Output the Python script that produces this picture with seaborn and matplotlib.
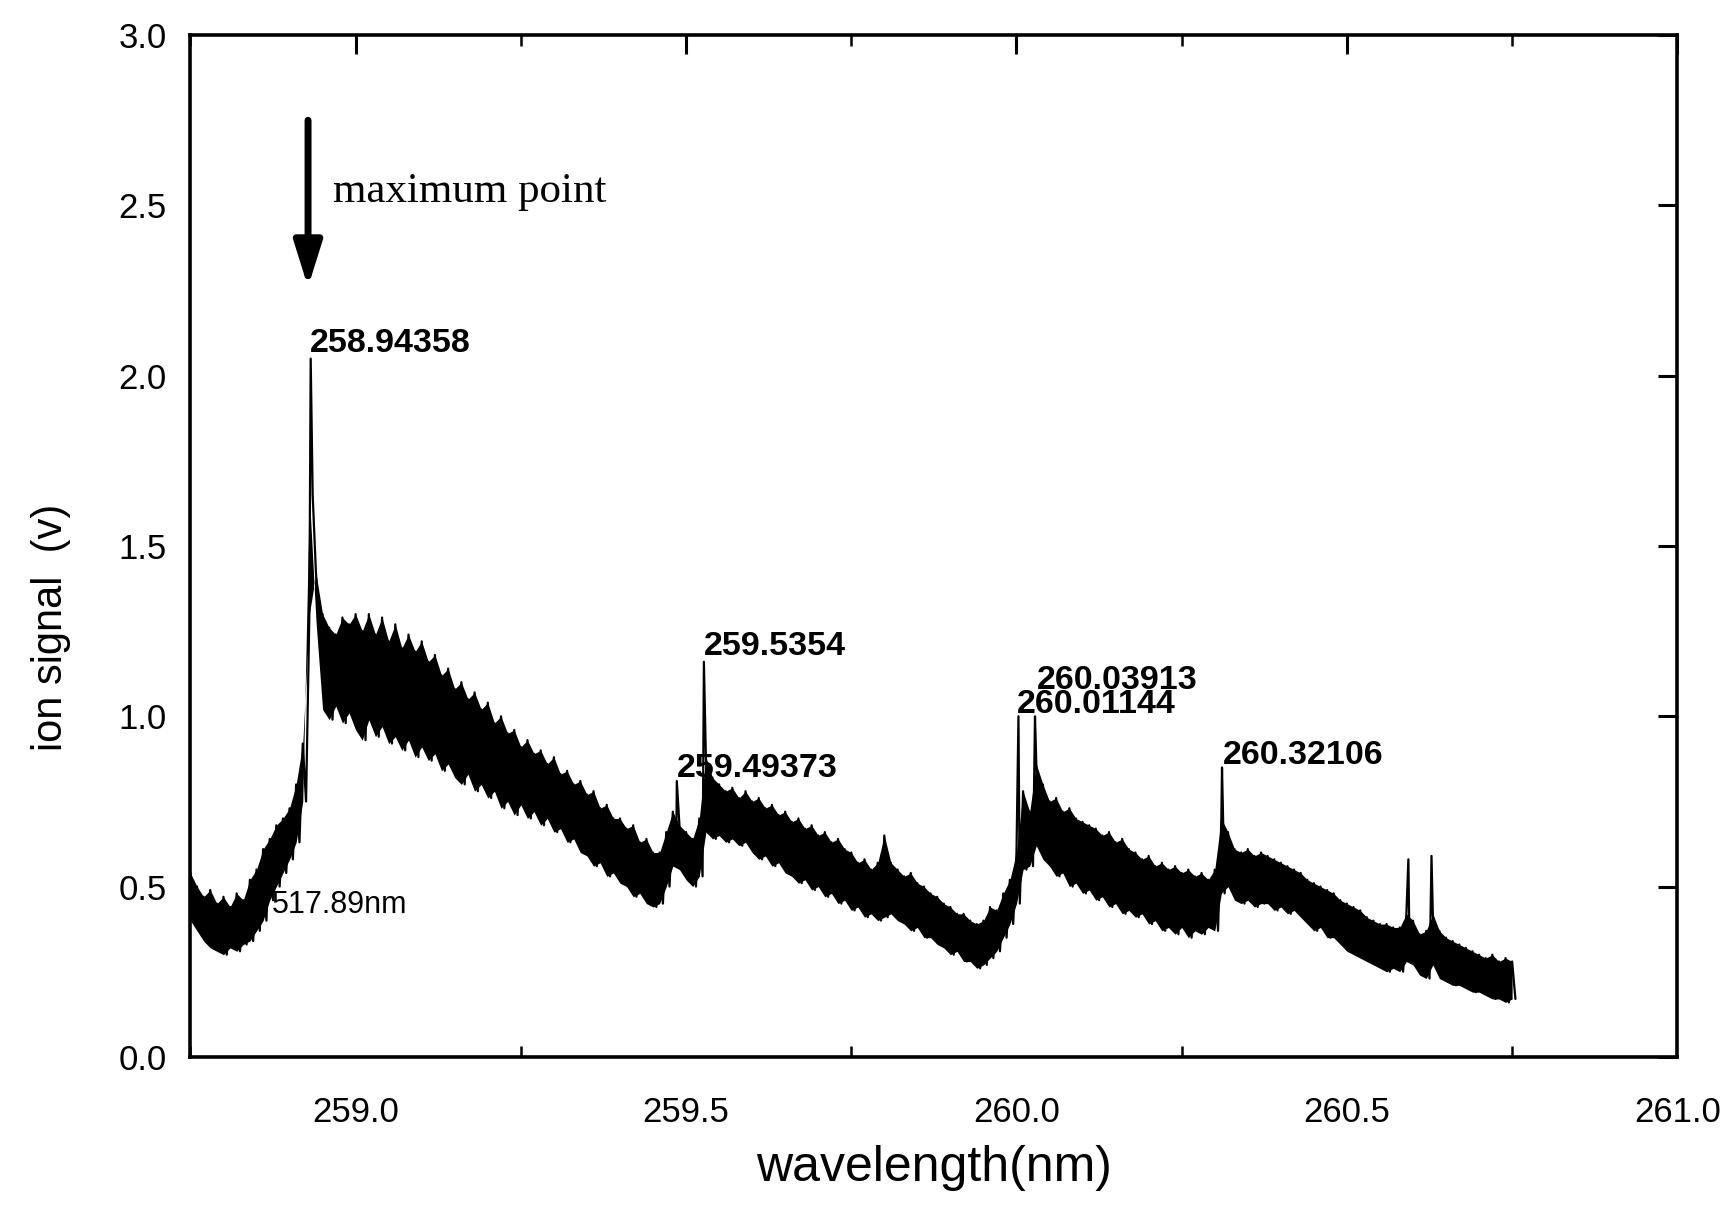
import numpy as np
import pandas as pd
import matplotlib
matplotlib.use("Agg")
import matplotlib.pyplot as plt
import seaborn as sns
from matplotlib.ticker import MultipleLocator

# ---------------- data ----------------
# scan starts at 258.75 nm, sampled every 0.01 nm; each sample gives the
# upper and lower edge of the noisy band (hi first, lo half a step later)
WL_START = 258.75
WL_STEP = 0.01

band_hi = [
    0.54, 0.50, 0.47, 0.49, 0.45, 0.47, 0.44, 0.48, 0.46, 0.52,   # 258.75-258.84
    0.55, 0.61, 0.64, 0.68, 0.70, 0.73, 0.80, 0.92, 1.30, 1.42,   # 258.85-258.94
    1.30, 1.26, 1.24, 1.29, 1.27, 1.30, 1.25, 1.30, 1.24, 1.29,   # 258.95-259.04
    1.22, 1.27, 1.20, 1.24, 1.19, 1.22, 1.16, 1.18, 1.12, 1.14,   # 259.05-259.14
    1.08, 1.10, 1.05, 1.07, 1.02, 1.04, 0.98, 1.00, 0.95, 0.96,   # 259.15-259.24
    0.91, 0.93, 0.89, 0.90, 0.86, 0.88, 0.83, 0.84, 0.80, 0.81,   # 259.25-259.34
    0.77, 0.78, 0.73, 0.74, 0.70, 0.70, 0.67, 0.68, 0.63, 0.64,   # 259.35-259.44
    0.60, 0.60, 0.66, 0.72, 0.68, 0.66, 0.64, 0.70, 0.88, 0.82,   # 259.45-259.54
    0.80, 0.78, 0.79, 0.76, 0.78, 0.75, 0.76, 0.73, 0.74, 0.71,   # 259.55-259.64
    0.72, 0.69, 0.70, 0.67, 0.68, 0.65, 0.66, 0.63, 0.64, 0.61,   # 259.65-259.74
    0.60, 0.57, 0.58, 0.55, 0.57, 0.65, 0.57, 0.55, 0.53, 0.54,   # 259.75-259.84
    0.51, 0.50, 0.48, 0.47, 0.45, 0.44, 0.42, 0.42, 0.40, 0.39,   # 259.85-259.94
    0.40, 0.44, 0.43, 0.48, 0.52, 0.60, 0.78, 0.72, 0.86, 0.80,   # 259.95-260.04
    0.75, 0.76, 0.72, 0.73, 0.70, 0.69, 0.68, 0.67, 0.65, 0.66,   # 260.05-260.14
    0.63, 0.64, 0.61, 0.60, 0.58, 0.59, 0.56, 0.57, 0.55, 0.56,   # 260.15-260.24
    0.54, 0.55, 0.53, 0.54, 0.52, 0.55, 0.70, 0.66, 0.61, 0.60,   # 260.25-260.34
    0.61, 0.59, 0.60, 0.59, 0.58, 0.57, 0.56, 0.55, 0.54, 0.52,   # 260.35-260.44
    0.51, 0.50, 0.49, 0.48, 0.46, 0.45, 0.44, 0.43, 0.41, 0.40,   # 260.45-260.54
    0.39, 0.39, 0.38, 0.38, 0.42, 0.40, 0.36, 0.37, 0.42, 0.37,   # 260.55-260.64
    0.35, 0.34, 0.33, 0.32, 0.31, 0.30, 0.29, 0.30, 0.28, 0.29,   # 260.65-260.74
    0.28,                                                          # 260.75
]
band_lo = [
    0.40, 0.37, 0.34, 0.32, 0.31, 0.30, 0.32, 0.31, 0.33, 0.34,
    0.37, 0.40, 0.46, 0.50, 0.54, 0.58, 0.63, 0.75, 1.65, 1.28,
    1.02, 0.99, 1.03, 0.98, 1.01, 0.96, 0.93, 0.99, 0.94, 0.97,
    0.92, 0.94, 0.90, 0.93, 0.88, 0.91, 0.87, 0.89, 0.84, 0.86,
    0.82, 0.80, 0.83, 0.78, 0.80, 0.76, 0.78, 0.73, 0.75, 0.71,
    0.74, 0.70, 0.72, 0.68, 0.70, 0.66, 0.67, 0.63, 0.64, 0.60,
    0.59, 0.56, 0.57, 0.53, 0.54, 0.51, 0.50, 0.47, 0.48, 0.45,
    0.44, 0.45, 0.50, 0.56, 0.55, 0.52, 0.50, 0.53, 0.66, 0.64,
    0.65, 0.63, 0.64, 0.62, 0.63, 0.60, 0.58, 0.59, 0.56, 0.57,
    0.54, 0.53, 0.51, 0.52, 0.49, 0.50, 0.47, 0.48, 0.45, 0.46,
    0.43, 0.44, 0.41, 0.42, 0.40, 0.41, 0.42, 0.40, 0.39, 0.37,
    0.38, 0.35, 0.35, 0.33, 0.32, 0.30, 0.31, 0.28, 0.28, 0.26,
    0.27, 0.29, 0.31, 0.35, 0.39, 0.45, 0.55, 0.56, 0.62, 0.58,
    0.56, 0.53, 0.54, 0.50, 0.51, 0.48, 0.49, 0.46, 0.47, 0.44,
    0.45, 0.42, 0.43, 0.41, 0.42, 0.39, 0.40, 0.37, 0.38, 0.36,
    0.38, 0.35, 0.37, 0.36, 0.38, 0.37, 0.48, 0.50, 0.46, 0.45,
    0.46, 0.44, 0.45, 0.45, 0.43, 0.44, 0.42, 0.43, 0.41, 0.39,
    0.37, 0.38, 0.35, 0.35, 0.33, 0.31, 0.30, 0.29, 0.28, 0.27,
    0.26, 0.25, 0.26, 0.25, 0.28, 0.27, 0.24, 0.23, 0.27, 0.23,
    0.22, 0.21, 0.21, 0.20, 0.19, 0.19, 0.18, 0.17, 0.17, 0.16,
    0.17,
]

# sharp lines (position where drawn, top value)
peak_wl = [258.932, 259.486, 259.527, 260.003, 260.028, 260.311, 260.593, 260.628]
peak_val = [2.05, 0.81, 1.16, 1.00, 1.00, 0.85, 0.58, 0.59]

# peak labels: text, x, y (bottom-left of text)
label_text = ["258.94358", "259.5354", "259.49373", "260.03913", "260.01144", "260.32106"]
label_x = [258.931, 259.527, 259.486, 260.031, 260.001, 260.313]
label_y = [2.05, 1.16, 0.80, 1.06, 0.99, 0.84]

x_ticks = [259.0, 259.5, 260.0, 260.5, 261.0]
x_ticklabels = ["259.0", "259.5", "260.0", "260.5", "261.0"]
y_ticks = [0.0, 0.5, 1.0, 1.5, 2.0, 2.5, 3.0]
y_ticklabels = ["0.0", "0.5", "1.0", "1.5", "2.0", "2.5", "3.0"]

# ---------------- build the series ----------------
n = len(band_hi)
grid = [round(WL_START + i * WL_STEP, 4) for i in range(n)]
wl = []
sig = []
for i in range(n):
    wl.append(grid[i])
    sig.append(band_hi[i])
    wl.append(round(grid[i] + WL_STEP / 2, 4))
    sig.append(band_lo[i])
wl += peak_wl
sig += peak_val
df = pd.DataFrame({"wavelength": wl, "signal": sig}).sort_values("wavelength")

# ---------------- plot ----------------
sns.set_theme(style="white")
plt.rcParams["font.family"] = ["Liberation Sans", "DejaVu Sans"]

fig = plt.figure(figsize=(17.31, 12.12), dpi=100)
ax = fig.add_axes([0.110, 0.128, 0.859, 0.843])

# solid noisy band
ax.fill_between(grid, band_lo, band_hi, color="black", linewidth=0)
sns.lineplot(data=df, x="wavelength", y="signal", ax=ax, color="black",
             linewidth=1.6, estimator=None, sort=True)

ax.set_xlim(258.75, 261.0)
ax.set_ylim(0.0, 3.0)
ax.set_xticks(x_ticks)
ax.set_xticklabels(x_ticklabels)
ax.set_yticks(y_ticks)
ax.set_yticklabels(y_ticklabels)
ax.xaxis.set_minor_locator(MultipleLocator(0.25))

for s in ax.spines.values():
    s.set_visible(True)
    s.set_color("black")
    s.set_linewidth(2.6)

ax.tick_params(axis="both", which="major", direction="in", length=14, width=2.2,
               color="black", labelsize=25, labelcolor="black",
               top=True, right=True)
ax.tick_params(axis="x", which="major", pad=28)
ax.tick_params(axis="y", which="major", pad=17)
ax.tick_params(axis="x", which="minor", direction="in", length=8, width=1.8,
               color="black", top=True, bottom=True)

ax.set_xlabel("wavelength(nm)", fontsize=36, color="black", va="center")
ax.xaxis.set_label_coords(0.5, -0.109)
ax.set_ylabel("ion signal  (v)", fontsize=30, color="black", va="center")
ax.yaxis.set_label_coords(-0.094, 0.42)

# peak labels
for t, lx, ly in zip(label_text, label_x, label_y):
    ax.text(lx, ly, t, fontsize=24.5, fontweight="bold", color="black",
            ha="left", va="bottom")

ax.text(258.873, 0.445, "517.89nm", fontsize=22, color="black",
        ha="left", va="center")

# arrow + "maximum point"
ax.annotate("", xy=(258.928, 2.26), xytext=(258.928, 2.75),
            arrowprops=dict(arrowstyle="-|>,head_length=0.8,head_width=0.25",
                            lw=5, color="black", mutation_scale=34,
                            shrinkA=0, shrinkB=0))
ax.text(258.966, 2.54, "maximum point", fontsize=31, color="black",
        family=["Liberation Serif", "DejaVu Serif"], ha="left", va="center")

fig.savefig("out.png", dpi=100, facecolor="white")
